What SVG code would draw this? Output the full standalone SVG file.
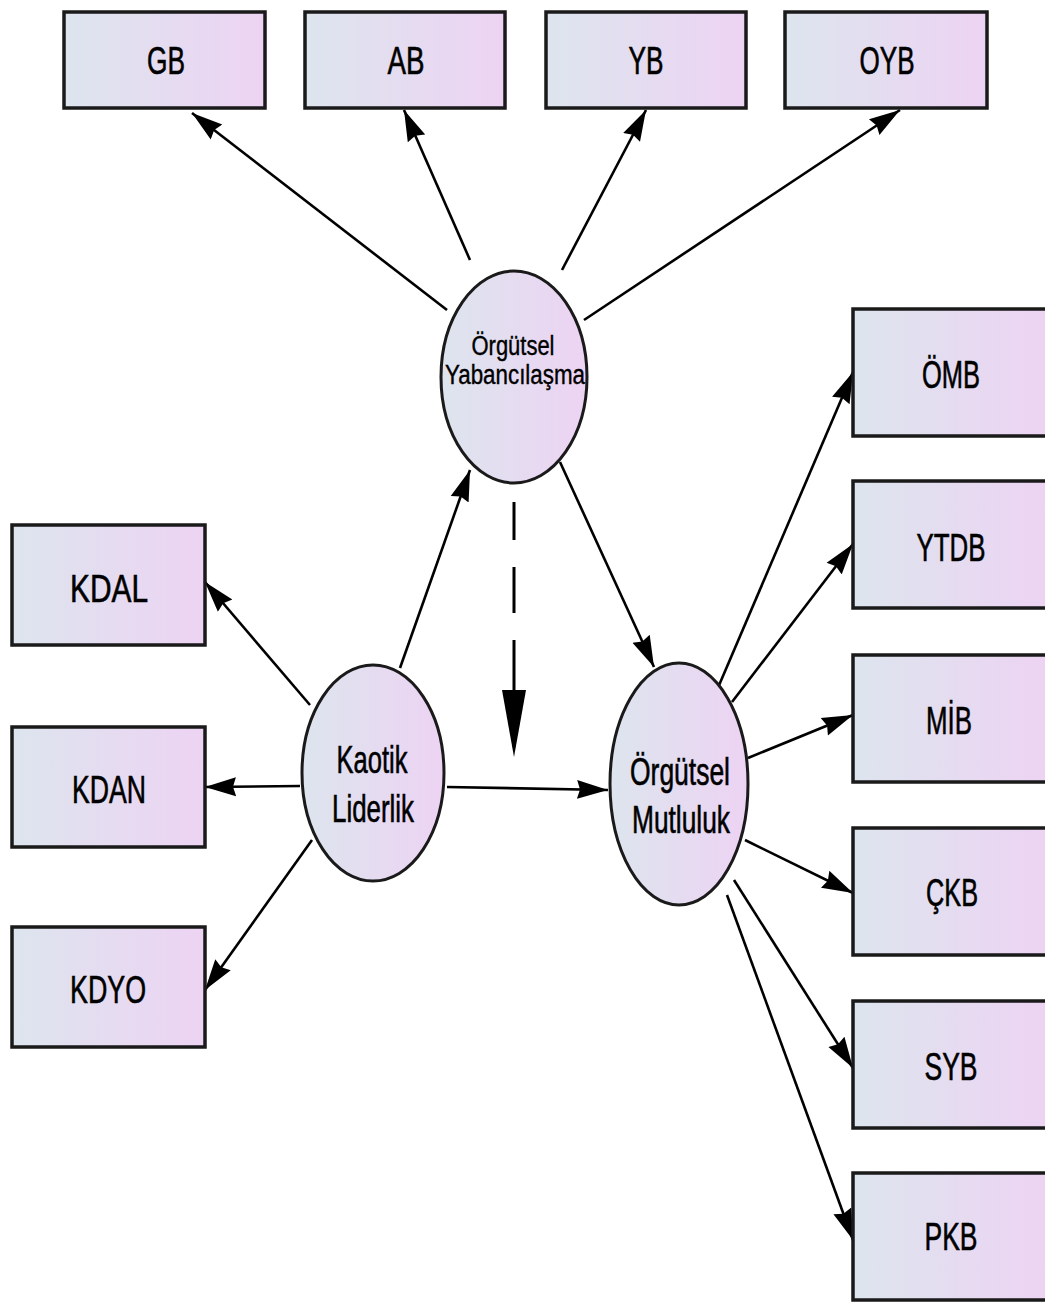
<svg xmlns="http://www.w3.org/2000/svg" width="1045" height="1304" viewBox="0 0 1045 1304">
  <defs>
    <linearGradient id="fill" x1="0" y1="0" x2="1" y2="0">
      <stop offset="0" stop-color="#dde5ee"/>
      <stop offset="1" stop-color="#edd3f3"/>
    </linearGradient>
    <marker id="head" markerUnits="userSpaceOnUse" markerWidth="32" markerHeight="22" refX="31" refY="11" orient="auto">
      <path d="M0,1.5 L31,11 L0,20.5 L3,11 Z" fill="#000"/>
    </marker>
    <style>
      .box { fill: url(#fill); stroke: #1a1a1a; stroke-width: 3.5; }
      .ell { fill: url(#fill); stroke: #1a1a1a; stroke-width: 3; }
      .lbl { font-family: "Liberation Sans", Arial, sans-serif; font-size: 38px; fill: #000; stroke: #000; stroke-width: 0.6; text-anchor: middle; }
      .small { font-size: 27px; stroke-width: 0.4; }
      .edge { stroke: #000; stroke-width: 2.6; fill: none; marker-end: url(#head); }
      .plain { stroke: #000; stroke-width: 3; fill: none; }
    </style>
  </defs>

  <rect width="1045" height="1304" fill="#fff"/>

  <g id="connectors">
    <line class="edge" x1="447" y1="310" x2="192" y2="113"/>
    <line class="edge" x1="470" y1="260" x2="404" y2="110"/>
    <line class="edge" x1="562" y1="270" x2="646" y2="110"/>
    <line class="edge" x1="584" y1="320" x2="900" y2="110"/>
    <line class="edge" x1="400" y1="668" x2="470" y2="470"/>
    <line class="edge" x1="560" y1="462" x2="654" y2="667"/>
    <!-- moderation path: dashed shaft with a long head -->
    <path class="plain" d="M514,502 V540 M514,567 V613 M514,640 V692"/>
    <polygon points="502,690 526,690 514,757" fill="#000"/>
    <line class="edge" x1="447" y1="787" x2="608" y2="790"/>
    <line class="edge" x1="310" y1="705" x2="205" y2="582"/>
    <line class="edge" x1="300" y1="786" x2="205" y2="787"/>
    <line class="edge" x1="312" y1="840" x2="205" y2="990"/>
    <line class="edge" x1="717" y1="690" x2="853" y2="372"/>
    <line class="edge" x1="732" y1="702" x2="853" y2="544"/>
    <line class="edge" x1="748" y1="758" x2="853" y2="715"/>
    <line class="edge" x1="745" y1="840" x2="853" y2="893"/>
    <line class="edge" x1="734" y1="880" x2="853" y2="1068"/>
    <line class="edge" x1="727" y1="895" x2="853" y2="1240"/>
  </g>

  <g id="GB"><rect class="box" x="64" y="12" width="201" height="96"/><text class="lbl" x="166" y="74" textLength="38" lengthAdjust="spacingAndGlyphs">GB</text></g>
  <g id="AB"><rect class="box" x="305" y="12" width="200" height="96"/><text class="lbl" x="406" y="74" textLength="37" lengthAdjust="spacingAndGlyphs">AB</text></g>
  <g id="YB"><rect class="box" x="546" y="12" width="200" height="96"/><text class="lbl" x="646" y="74" textLength="35" lengthAdjust="spacingAndGlyphs">YB</text></g>
  <g id="OYB"><rect class="box" x="785" y="12" width="202" height="96"/><text class="lbl" x="887" y="74" textLength="55" lengthAdjust="spacingAndGlyphs">OYB</text></g>

  <g id="KDAL"><rect class="box" x="12" y="525" width="193" height="120"/><text class="lbl" x="109" y="602" textLength="78" lengthAdjust="spacingAndGlyphs">KDAL</text></g>
  <g id="KDAN"><rect class="box" x="12" y="727" width="193" height="120"/><text class="lbl" x="109" y="803" textLength="74" lengthAdjust="spacingAndGlyphs">KDAN</text></g>
  <g id="KDYO"><rect class="box" x="12" y="927" width="193" height="120"/><text class="lbl" x="108" y="1003" textLength="76" lengthAdjust="spacingAndGlyphs">KDYO</text></g>

  <g id="OMB"><rect class="box" x="853" y="309" width="195" height="127"/><text class="lbl" x="951" y="388" textLength="58" lengthAdjust="spacingAndGlyphs">ÖMB</text></g>
  <g id="YTDB"><rect class="box" x="853" y="481" width="195" height="127"/><text class="lbl" x="951" y="561" textLength="69" lengthAdjust="spacingAndGlyphs">YTDB</text></g>
  <g id="MIB"><rect class="box" x="853" y="655" width="195" height="127"/><text class="lbl" x="949" y="734" textLength="46" lengthAdjust="spacingAndGlyphs">MİB</text></g>
  <g id="CKB"><rect class="box" x="853" y="828" width="195" height="127"/><text class="lbl" x="952" y="906" textLength="52" lengthAdjust="spacingAndGlyphs">ÇKB</text></g>
  <g id="SYB"><rect class="box" x="853" y="1001" width="195" height="127"/><text class="lbl" x="951" y="1080" textLength="53" lengthAdjust="spacingAndGlyphs">SYB</text></g>
  <g id="PKB"><rect class="box" x="853" y="1173" width="195" height="127"/><text class="lbl" x="951" y="1250" textLength="53" lengthAdjust="spacingAndGlyphs">PKB</text></g>

  <g id="OrgutselYabancilasma">
    <ellipse class="ell" cx="514" cy="377" rx="73" ry="106"/>
    <text class="lbl small" x="513" y="355" textLength="83" lengthAdjust="spacingAndGlyphs">Örgütsel</text>
    <text class="lbl small" x="515" y="384" textLength="140" lengthAdjust="spacingAndGlyphs">Yabancılaşma</text>
  </g>
  <g id="KaotikLiderlik">
    <ellipse class="ell" cx="373" cy="773" rx="71" ry="108"/>
    <text class="lbl" x="372" y="773" textLength="71" lengthAdjust="spacingAndGlyphs">Kaotik</text>
    <text class="lbl" x="373" y="822" textLength="82" lengthAdjust="spacingAndGlyphs">Liderlik</text>
  </g>
  <g id="OrgutselMutluluk">
    <ellipse class="ell" cx="679" cy="784" rx="69" ry="121"/>
    <text class="lbl" x="680" y="785" textLength="100" lengthAdjust="spacingAndGlyphs">Örgütsel</text>
    <text class="lbl" x="681" y="833" textLength="98" lengthAdjust="spacingAndGlyphs">Mutluluk</text>
  </g>
</svg>
